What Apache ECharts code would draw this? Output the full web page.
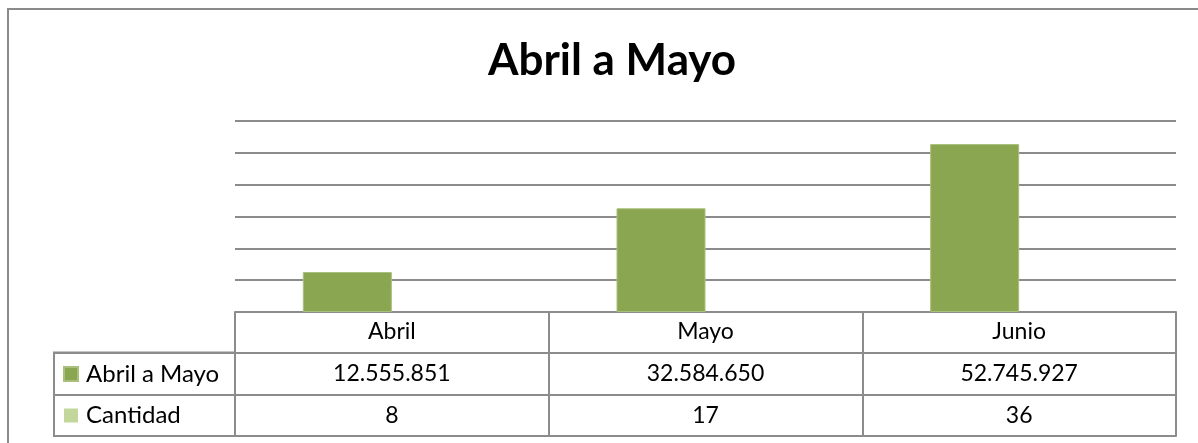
<!DOCTYPE html>
<html>
<head>
<meta charset="utf-8">
<script src="https://cdn.jsdelivr.net/npm/echarts@6/dist/echarts.min.js"></script>
<style>
html,body{margin:0;padding:0;background:#fff;}
#chart{width:1198px;height:443px;}
</style>
</head>
<body>
<div id="chart"></div>
<script>
const titleText = 'Abril a Mayo';
const categories = ['Abril', 'Mayo', 'Junio'];
const seriesNames = ['Abril a Mayo', 'Cantidad'];
const montoValues = [12555851, 32584650, 52745927];
const cantidadValues = [8, 17, 36];
const yMin = 0, yMax = 60000000, yInterval = 10000000;

const FONT = 'Lato';
const LINE = '#8c8c8c';
const C1 = '#8BA650';
const C2 = '#C3D69B';

function fmt(n) {
  return String(n).replace(/\B(?=(\d{3})+(?!\d))/g, '.');
}

const chart = echarts.init(document.getElementById('chart'), null, {renderer: 'canvas'});

const labelStyle = {fontFamily: FONT, fontSize: 23, color: '#000', verticalAlign: 'middle', interval: 0};

chart.setOption({
  animation: false,
  backgroundColor: '#fff',
  title: {
    text: titleText,
    left: 607, top: 34,
    textAlign: 'center',
    textStyle: {fontFamily: FONT, fontWeight: 'bold', fontSize: 44, color: '#000'}
  },
  graphic: [{
    type: 'rect', silent: true,
    shape: {x: 8, y: 9, width: 2000, height: 2000},
    style: {fill: 'none', stroke: '#8a8a8a', lineWidth: 2}
  }],
  legend: {
    orient: 'vertical',
    left: 63, top: 362,
    padding: 0,
    itemWidth: 14, itemHeight: 14, itemGap: 17.5,
    icon: 'rect',
    textStyle: {fontFamily: FONT, fontSize: 24, color: '#000', lineHeight: 24, padding: [0, 0, 0, 3]},
    data: seriesNames
  },
  grid: [
    {left: 235, right: 22, top: 121, bottom: 131},
    {left: 54, right: 963, top: 352.5, bottom: 7, show: true, borderColor: LINE, borderWidth: 2, backgroundColor: 'transparent'}
  ],
  xAxis: [
    {
      gridIndex: 0, type: 'category', data: categories, position: 'bottom',
      axisLine: {show: true, lineStyle: {color: LINE, width: 2}},
      axisTick: {show: true, length: 124, lineStyle: {color: LINE, width: 2}},
      axisLabel: Object.assign({margin: 20}, labelStyle),
      splitLine: {show: false}
    },
    {
      gridIndex: 0, type: 'category', data: categories, position: 'bottom', offset: 40.5,
      axisLine: {show: true, lineStyle: {color: LINE, width: 2}},
      axisTick: {show: false},
      axisLabel: Object.assign({margin: 21, formatter: (v, i) => fmt(montoValues[i])}, labelStyle)
    },
    {
      gridIndex: 0, type: 'category', data: categories, position: 'bottom', offset: 83,
      axisLine: {show: true, lineStyle: {color: LINE, width: 2}},
      axisTick: {show: false},
      axisLabel: Object.assign({margin: 20.5, formatter: (v, i) => fmt(cantidadValues[i])}, labelStyle)
    },
    {
      gridIndex: 0, type: 'category', data: categories, position: 'bottom', offset: 124,
      axisLine: {show: true, lineStyle: {color: LINE, width: 2}},
      axisTick: {show: false},
      axisLabel: {show: false}
    },
    {
      gridIndex: 1, type: 'value', show: false
    }
  ],
  yAxis: [
    {
      gridIndex: 0, type: 'value', min: yMin, max: yMax, interval: yInterval,
      axisLine: {show: false}, axisTick: {show: false}, axisLabel: {show: false},
      splitLine: {show: true, lineStyle: {color: LINE, width: 2}}
    },
    {
      gridIndex: 1, type: 'category', data: seriesNames, inverse: true,
      axisLine: {show: false}, axisTick: {show: false}, axisLabel: {show: false},
      splitLine: {show: true, lineStyle: {color: LINE, width: 2}}
    }
  ],
  series: [
    {
      name: seriesNames[0], type: 'bar', xAxisIndex: 0, yAxisIndex: 0,
      data: montoValues, barWidth: 89, barGap: '0%',
      itemStyle: {color: C1, borderColor: '#a9c07c', borderWidth: 1}
    },
    {
      name: seriesNames[1], type: 'bar', xAxisIndex: 0, yAxisIndex: 0,
      data: cantidadValues, barWidth: 89, barGap: '0%',
      itemStyle: {color: C2}
    }
  ]
});
</script>
</body>
</html>
